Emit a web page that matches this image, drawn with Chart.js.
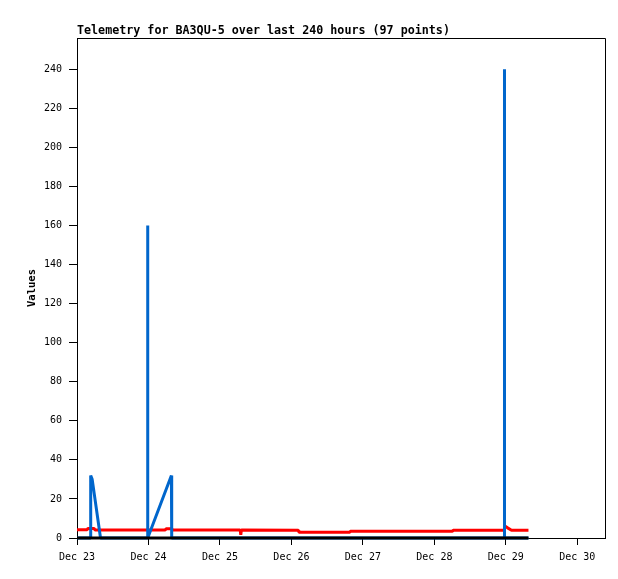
<!DOCTYPE html>
<html>
<head>
<meta charset="utf-8">
<script src="https://cdn.jsdelivr.net/npm/chart.js@4.4.0/dist/chart.umd.min.js"></script>
<style>
  html, body { margin: 0; padding: 0; background: #fff; }
  #wrap { width: 618px; height: 579px; }
</style>
</head>
<body>
<div id="wrap"><canvas id="telemetry-chart" width="618" height="579"></canvas></div>
<script>
  // x values are hours since Dec 23 00:00
  var chartTitle = 'Telemetry for BA3QU-5 over last 240 hours (97 points)';
  var dayTicks = [0, 24, 48, 72, 96, 120, 144, 168];
  var dayLabels = ['Dec 23', 'Dec 24', 'Dec 25', 'Dec 26', 'Dec 27', 'Dec 28', 'Dec 29', 'Dec 30'];
  var valueTicks = [0, 20, 40, 60, 80, 100, 120, 140, 160, 180, 200, 220, 240];

  var blackHours = [0, 151.6];
  var blackValues = [0, 0];

  var blueHours = [0, 4.5, 4.6, 5.1, 7.9, 23.6, 23.7, 23.8, 31.7, 31.8, 143.4, 143.5, 143.6, 151.6];
  var blueValues = [0, 0, 32, 30, 0, 0, 160, 0, 32, 0, 0, 240, 0, 0];

  var redHours = [0, 3.4, 3.7, 5.7, 6.1, 29.6, 29.9, 31.8, 32.2, 54.8, 55.0, 55.2, 74.3, 74.5, 91.6, 91.8, 126.1, 126.3, 143.5, 143.8, 144.6, 145.9, 151.6];
  var redValues = [4.2, 4.2, 4.9, 4.9, 4.1, 4.1, 4.7, 4.7, 4.1, 4.1, 1.6, 4.1, 4.0, 3.0, 3.0, 3.5, 3.4, 4.0, 4.0, 6.0, 5.2, 4.0, 4.0];

  var toPoints = function (xs, ys) {
    return xs.map(function (x, i) { return { x: x, y: ys[i] }; });
  };

  // title + frame drawn over the plot area
  var framePlugin = {
    id: 'frame',
    afterDraw: function (chart) {
      var ctx = chart.ctx;
      var area = chart.chartArea;
      ctx.save();
      ctx.strokeStyle = '#000';
      ctx.lineWidth = 1;
      ctx.beginPath();
      ctx.moveTo(area.left, area.top + 0.5);
      ctx.lineTo(area.right + 0.5, area.top + 0.5);
      ctx.lineTo(area.right + 0.5, area.bottom);
      ctx.stroke();
      ctx.fillStyle = '#000';
      ctx.font = 'bold 11.7px "DejaVu Sans Mono"';
      ctx.textAlign = 'left';
      ctx.textBaseline = 'middle';
      ctx.fillText(chartTitle, area.left, 31);
      ctx.restore();
    }
  };

  var tickFont = { family: '"DejaVu Sans Mono", monospace', size: 10 };

  var config = {
    type: 'line',
    data: {
      datasets: [{
        label: 'zero',
        data: toPoints(blackHours, blackValues),
        borderColor: '#000000',
        borderWidth: 3,
        pointRadius: 0,
        clip: false
      }, {
        label: 'blue',
        data: toPoints(blueHours, blueValues),
        borderColor: '#0066cc',
        borderWidth: 3,
        borderJoinStyle: 'bevel',
        pointRadius: 0,
        clip: false
      }, {
        label: 'red',
        data: toPoints(redHours, redValues),
        borderColor: '#ff0000',
        borderWidth: 3,
        borderJoinStyle: 'bevel',
        pointRadius: 0,
        clip: false
      }]
    },
    options: {
      responsive: false,
      animation: false,
      devicePixelRatio: 1,
      layout: {
        padding: { top: 38, right: 13, bottom: 0, left: 0 }
      },
      plugins: {
        legend: { display: false },
        tooltip: { enabled: false }
      },
      scales: {
        x: {
          type: 'linear',
          min: 0,
          max: 177.3,
          afterBuildTicks: function (scale) {
            scale.ticks = dayTicks.map(function (v) { return { value: v }; });
          },
          afterFit: function (scale) { scale.height = 41; },
          ticks: {
            color: '#000',
            font: tickFont,
            padding: 6,
            maxRotation: 0,
            autoSkip: false,
            callback: function (value) {
              return dayLabels[dayTicks.indexOf(value)];
            }
          },
          grid: {
            drawOnChartArea: false,
            drawTicks: true,
            tickLength: 7,
            tickColor: '#000'
          },
          border: { color: '#000', width: 1 }
        },
        y: {
          type: 'linear',
          min: 0,
          max: 256,
          afterBuildTicks: function (scale) {
            scale.ticks = valueTicks.map(function (v) { return { value: v }; });
          },
          afterFit: function (scale) { scale.width = 77; },
          title: {
            display: true,
            text: 'Values',
            color: '#000',
            font: { family: '"DejaVu Sans Mono", monospace', size: 10.5, weight: 'bold' },
            padding: { top: 25.5, bottom: 0 }
          },
          ticks: {
            color: '#000',
            font: tickFont,
            padding: 7
          },
          grid: {
            drawOnChartArea: false,
            drawTicks: true,
            tickLength: 8,
            tickColor: '#000'
          },
          border: { color: '#000', width: 1 }
        }
      }
    },
    plugins: [framePlugin]
  };

  window.onload = function () {
    var ctx = document.getElementById('telemetry-chart').getContext('2d');
    window.telemetryChart = new Chart(ctx, config);
  };
</script>
</body>
</html>
